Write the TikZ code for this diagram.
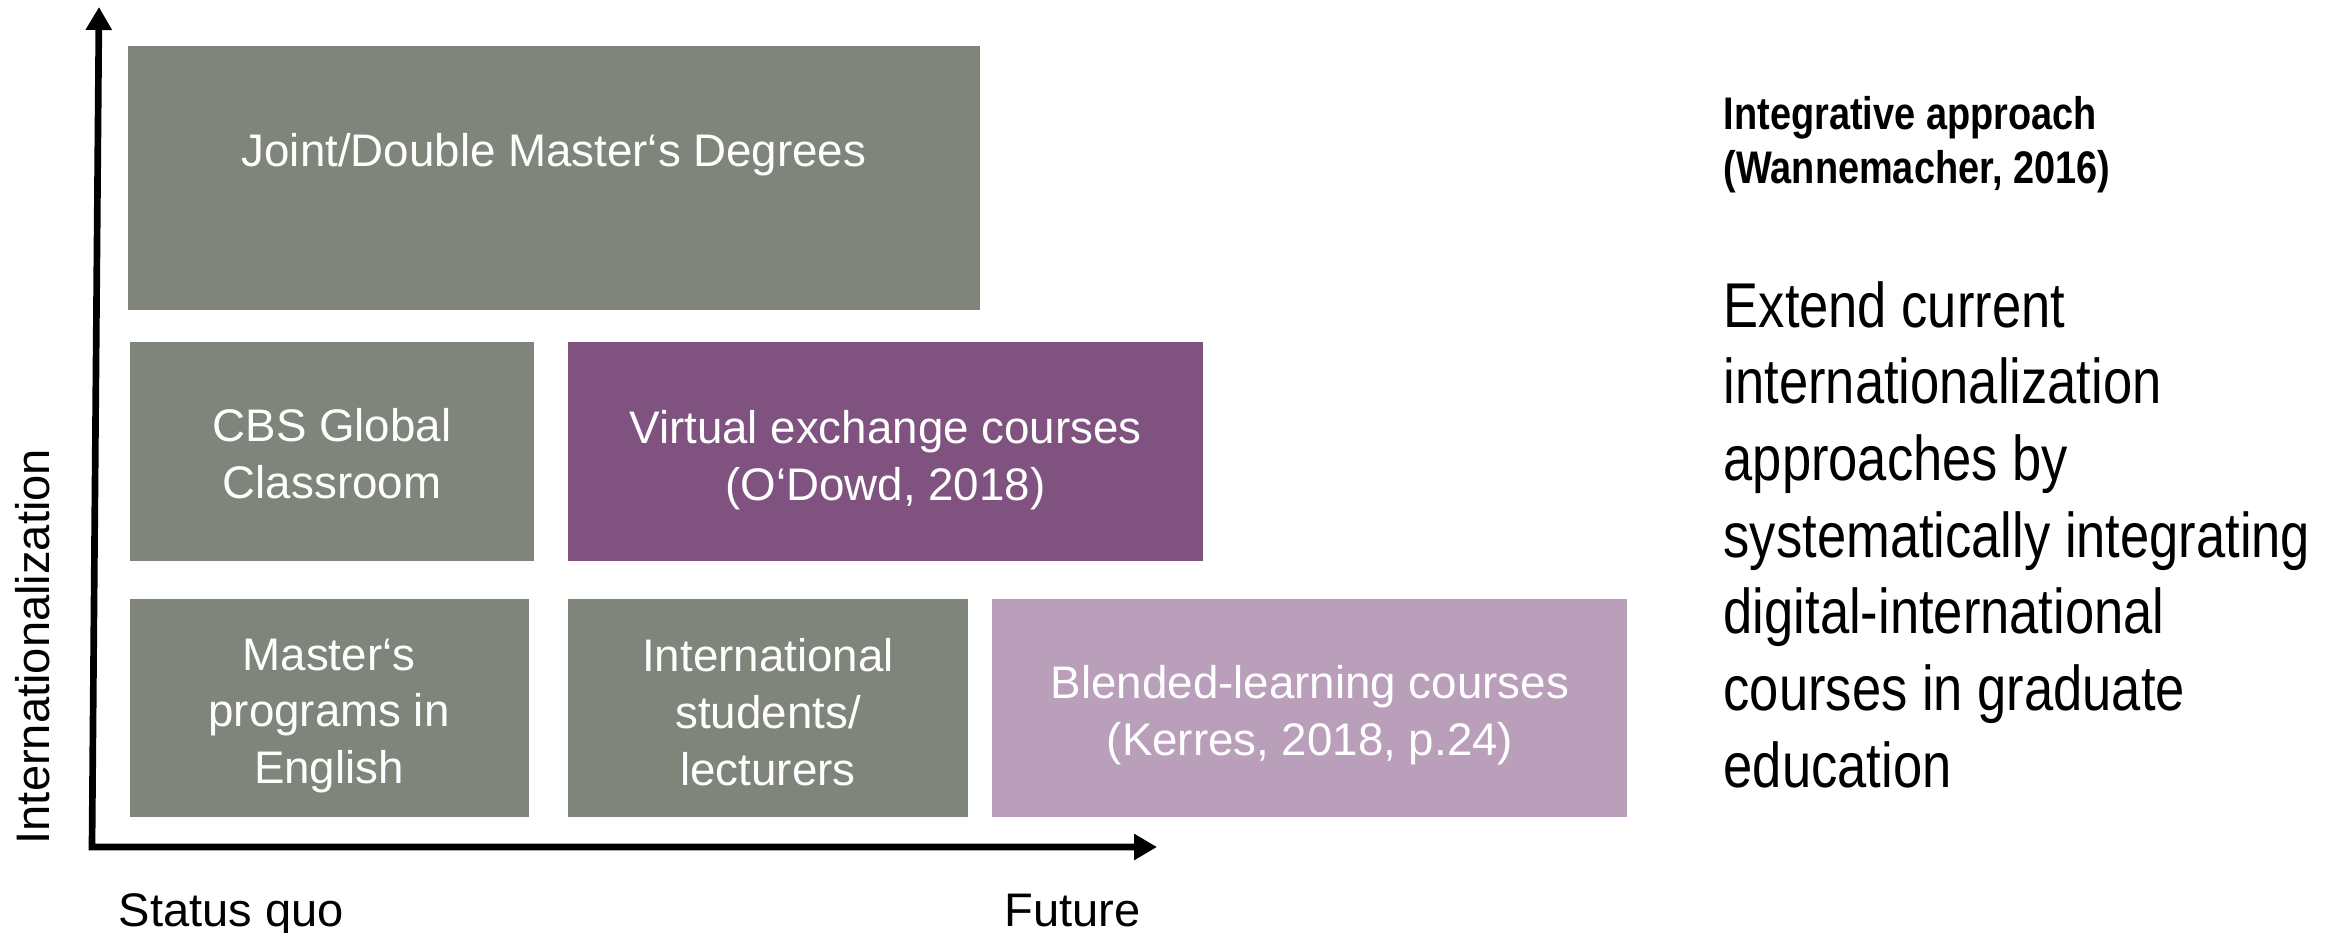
\documentclass[tikz,border=0pt]{standalone}
\usepackage{fontspec}
\setmainfont{Liberation Sans}
\newfontfamily\condfont[FakeStretch=0.83]{Liberation Sans}
\usetikzlibrary{arrows.meta}
\definecolor{cbsgray}{RGB}{128,133,123}
\definecolor{cbsplum}{RGB}{127,82,128}
\definecolor{cbslilac}{RGB}{186,159,187}
\tikzset{
  axis/.style={line width=1.9pt, line join=miter,
    {Triangle[length=0.23cm,width=0.25cm]}-{Triangle[length=0.23cm,width=0.25cm]}},
  boxtext/.style={text=white, align=center, inner sep=0pt,
    font=\fontsize{13pt}{16.2pt}\selectfont},
  axislabel/.style={inner sep=0pt, font=\fontsize{13.4pt}{16pt}\selectfont}
}
\begin{document}
\begin{tikzpicture}
	\useasboundingbox (0,0) rectangle (23.38,-9.33);

	\fill[cbsgray] (1.28,-0.46) rectangle (9.80,-3.10); \fill[cbsgray]
        (1.30,-3.42) rectangle (5.34,-5.61); \fill[cbsplum] (5.68,-3.42)
        rectangle (12.03,-5.61); \fill[cbsgray] (1.30,-5.99) rectangle
        (5.29,-8.17); \fill[cbsgray] (5.68,-5.99) rectangle (9.68,-8.17);
        \fill[cbslilac] (9.92,-5.99) rectangle (16.27,-8.17);

	\node[boxtext] (joint) at (5.54,-1.55) {Joint/Double Master‘s Degrees};
	\node[boxtext] (cbs) at (3.32,-4.54) {CBS Global\\Classroom};
	\node[boxtext] (virtual) at (8.855,-4.60) {Virtual exchange courses\\(O‘Dowd, 2018)};
	\node[boxtext] (masters) at (3.29,-7.16) {Master‘s\\programs in\\English};
	\node[boxtext] (intl) at (7.68,-7.12) {International\\students/\\lecturers};
	\node[boxtext] (blended) at (13.10,-7.15) {Blended-learning courses\\(Kerres, 2018, p.24)};

	\coordinate (origin) at (0.92,-8.47); \coordinate (ytip) at
        (0.99,-0.07); \coordinate (xtip) at (11.57,-8.47);
	\draw[axis] (ytip) -- (origin) -- (xtip);

	\node[axislabel, rotate=90, anchor=base west] (yname) at (0.50,-8.45) {Internationalization};
	\node[axislabel, anchor=base west] (statusquo) at (1.18,-9.26) {Status quo};
	\node[axislabel, anchor=base west] (future) at (10.04,-9.26) {Future};

	\node[anchor=base west, align=left, inner sep=0pt,
        font=\condfont\bfseries\fontsize{13pt}{15.4pt}\selectfont] (approach)
        at (17.23,-1.84) {Integrative approach\\(Wannemacher, 2016)};
	\node[anchor=base west, align=left, inner sep=0pt,
        font=\condfont\fontsize{18pt}{21.8pt}\selectfont] (extend) at
        (17.23,-7.87) {Extend current\\internationalization\\approaches by\\systematically integrating\\digital-international\\courses in graduate\\education};
\end{tikzpicture}
\end{document}
